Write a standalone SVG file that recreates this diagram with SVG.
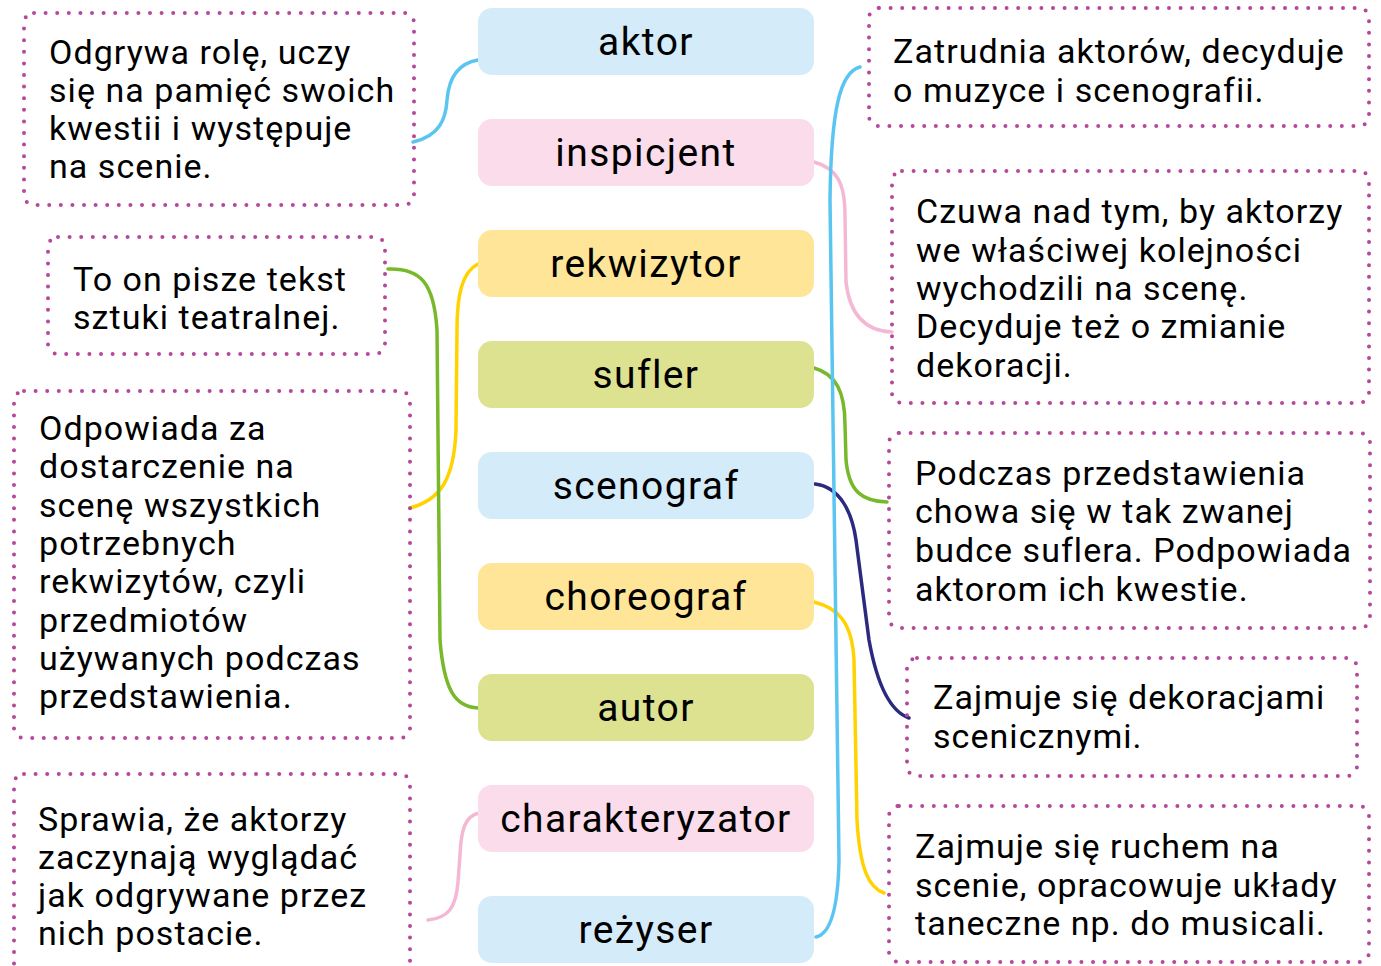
<svg xmlns="http://www.w3.org/2000/svg" width="1381" height="966" viewBox="0 0 1381 966">
<style>
.bg{fill:#ffffff}
.dot{fill:none;stroke:#b5489a;stroke-width:4;stroke-dasharray:0 11.6;stroke-linecap:round}
.lb{stroke:none}
.blue{fill:#d4ebfa}
.pink{fill:#fadcea}
.yel{fill:#fee598}
.grn{fill:#dce290}
.lt{font-family:Roboto,"Liberation Sans",sans-serif;font-size:39px;fill:#000;text-anchor:middle;letter-spacing:1.4px}
.dt{font-family:Roboto,"Liberation Sans",sans-serif;font-size:34px;fill:#000;letter-spacing:1.05px}
.c{fill:none;stroke-width:3.5;stroke-linecap:round}
.cb{stroke:#5bc5f2}.cp{stroke:#f5b8d4}.cy{stroke:#ffd200}.cg{stroke:#78b92b}.cn{stroke:#2c2a7e}
</style>
<rect class="bg" x="0" y="0" width="1381" height="966"/>
<g id="connectors">
<path class="c cb" d="M413,142 C440,136 446,118 447,100 C449,75 460,63 478,60"/>
<path class="c cp" d="M814,162 C836,168 845,182 845,215 L846,282 C850,318 868,331 892,332"/>
<path class="c cy" d="M478,264 C462,272 457,295 457,330 L456,430 C454,480 440,500 410,508"/>
<path class="c cg" d="M814,368 C836,374 845,392 845,425 L846,460 C849,492 862,501 887,502"/>
<path class="c cn" d="M815,484 C840,487 852,512 856,540 L869,640 C878,690 892,712 909,718"/>
<path class="c cy" d="M814,602 C838,608 852,622 854,660 L857,820 C860,872 870,888 884,893"/>
<path class="c cg" d="M388,269 C420,268 434,282 437,330 L440,640 C444,690 455,707 478,708"/>
<path class="c cp" d="M479,813 C465,816 461,830 460,855 L458,882 C456,908 448,918 428,920"/>
<path class="c cb" d="M816,937 C830,934 838,910 839,860 L830,200 C831,110 840,72 860,67"/>
</g>
<g id="desc-aktor">
<rect class="dot" x="24" y="13" width="390" height="192" rx="10"/>
<text class="dt"><tspan x="49" y="64">Odgrywa rolę, uczy</tspan><tspan x="49" y="102">się na pamięć swoich</tspan><tspan x="49" y="140">kwestii i występuje</tspan><tspan x="49" y="178">na scenie.</tspan></text>
</g>
<g id="desc-autor">
<rect class="dot" x="48" y="237" width="337" height="117" rx="10"/>
<text class="dt"><tspan x="73" y="291">To on pisze tekst</tspan><tspan x="73" y="329">sztuki teatralnej.</tspan></text>
</g>
<g id="desc-rekwizytor">
<rect class="dot" x="14" y="391" width="396" height="347" rx="10"/>
<text class="dt"><tspan x="39" y="440">Odpowiada za</tspan><tspan x="39" y="478">dostarczenie na</tspan><tspan x="39" y="517">scenę wszystkich</tspan><tspan x="39" y="555">potrzebnych</tspan><tspan x="39" y="593">rekwizytów, czyli</tspan><tspan x="39" y="632">przedmiotów</tspan><tspan x="39" y="670">używanych podczas</tspan><tspan x="39" y="708">przedstawienia.</tspan></text>
</g>
<g id="desc-charakteryzator">
<rect class="dot" x="14" y="774" width="396" height="215" rx="10"/>
<text class="dt"><tspan x="38" y="831">Sprawia, że aktorzy</tspan><tspan x="38" y="869">zaczynają wyglądać</tspan><tspan x="38" y="907">jak odgrywane przez</tspan><tspan x="38" y="945">nich postacie.</tspan></text>
</g>
<g id="desc-rezyser">
<rect class="dot" x="869" y="8" width="500" height="118" rx="10"/>
<text class="dt"><tspan x="893" y="63">Zatrudnia aktorów, decyduje</tspan><tspan x="893" y="102">o muzyce i scenografii.</tspan></text>
</g>
<g id="desc-inspicjent">
<rect class="dot" x="892" y="171" width="477" height="232" rx="10"/>
<text class="dt"><tspan x="916" y="223">Czuwa nad tym, by aktorzy</tspan><tspan x="916" y="262">we właściwej kolejności</tspan><tspan x="916" y="300">wychodzili na scenę.</tspan><tspan x="916" y="338">Decyduje też o zmianie</tspan><tspan x="916" y="377">dekoracji.</tspan></text>
</g>
<g id="desc-sufler">
<rect class="dot" x="889" y="433" width="481" height="195" rx="10"/>
<text class="dt"><tspan x="915" y="485">Podczas przedstawienia</tspan><tspan x="915" y="523">chowa się w tak zwanej</tspan><tspan x="915" y="562">budce suflera. Podpowiada</tspan><tspan x="915" y="601">aktorom ich kwestie.</tspan></text>
</g>
<g id="desc-scenograf">
<rect class="dot" x="907" y="658" width="450" height="118" rx="10"/>
<text class="dt"><tspan x="933" y="709">Zajmuje się dekoracjami</tspan><tspan x="933" y="748">scenicznymi.</tspan></text>
</g>
<g id="desc-choreograf">
<rect class="dot" x="889" y="806" width="480" height="156" rx="10"/>
<text class="dt"><tspan x="915" y="858">Zajmuje się ruchem na</tspan><tspan x="915" y="897">scenie, opracowuje układy</tspan><tspan x="915" y="935">taneczne np. do musicali.</tspan></text>
</g>
<g id="aktor"><rect class="lb blue" x="478" y="8" width="336" height="67" rx="14"/><text class="lt" x="646" y="55">aktor</text></g>
<g id="inspicjent"><rect class="lb pink" x="478" y="119" width="336" height="67" rx="14"/><text class="lt" x="646" y="166">inspicjent</text></g>
<g id="rekwizytor"><rect class="lb yel" x="478" y="230" width="336" height="67" rx="14"/><text class="lt" x="646" y="277">rekwizytor</text></g>
<g id="sufler"><rect class="lb grn" x="478" y="341" width="336" height="67" rx="14"/><text class="lt" x="646" y="388">sufler</text></g>
<g id="scenograf"><rect class="lb blue" x="478" y="452" width="336" height="67" rx="14"/><text class="lt" x="646" y="499">scenograf</text></g>
<g id="choreograf"><rect class="lb yel" x="478" y="563" width="336" height="67" rx="14"/><text class="lt" x="646" y="610">choreograf</text></g>
<g id="autor"><rect class="lb grn" x="478" y="674" width="336" height="67" rx="14"/><text class="lt" x="646" y="721">autor</text></g>
<g id="charakteryzator"><rect class="lb pink" x="478" y="785" width="336" height="67" rx="14"/><text class="lt" x="646" y="832">charakteryzator</text></g>
<g id="rezyser"><rect class="lb blue" x="478" y="896" width="336" height="67" rx="14"/><text class="lt" x="646" y="943">reżyser</text></g>
</svg>
